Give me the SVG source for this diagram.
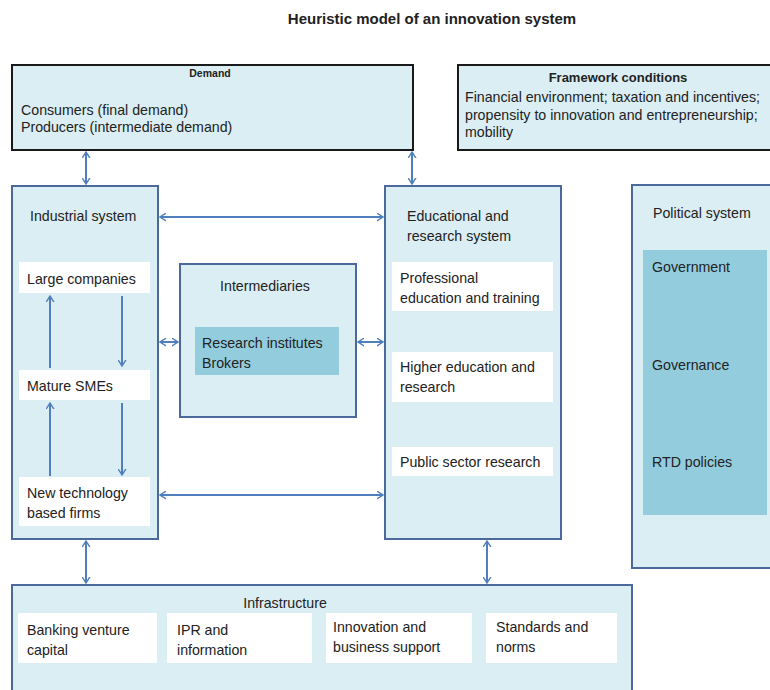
<svg xmlns="http://www.w3.org/2000/svg" width="770" height="690" viewBox="0 0 770 690">
  <style>
    text { font-family: "Liberation Sans", Arial, sans-serif; font-size: 14.2px; fill: #222; }
    .title { font-size: 15px; font-weight: bold; }
    .hdr { font-weight: bold; }
    .box { fill: #dbeef4; stroke: #4b6a9b; stroke-width: 2; }
    .dark { fill: #dbeef4; stroke: #1a1a1a; stroke-width: 2; }
    .item { fill: #ffffff; }
    .deep { fill: #93cddd; }
    .link { stroke: #4f7fbd; stroke-width: 2; fill: none; marker-end: url(#head); }
    .both { marker-start: url(#head); }
  </style>
  <defs>
    <marker id="head" viewBox="0 0 8 10" refX="7" refY="5" markerWidth="7" markerHeight="9" markerUnits="userSpaceOnUse" orient="auto-start-reverse">
      <path d="M0,0.5 L7,5 L0,9.5" fill="none" stroke="#4f7fbd" stroke-width="1.6"/>
    </marker>
  </defs>

  <rect width="770" height="690" fill="#ffffff"/>

  <text class="title" x="432" y="24" text-anchor="middle">Heuristic model of an innovation system</text>

  <g id="demand">
    <rect class="dark" x="12" y="65" width="401" height="85"/>
    <text class="hdr" x="210" y="77" text-anchor="middle" style="font-size:10.5px">Demand</text>
    <text x="21" y="115">Consumers (final demand)</text>
    <text x="21" y="132">Producers (intermediate demand)</text>
  </g>

  <g id="framework">
    <rect class="dark" x="458" y="65" width="320" height="85"/>
    <text class="hdr" x="618" y="82" text-anchor="middle" style="font-size:13px">Framework conditions</text>
    <text x="465" y="102">Financial environment; taxation and incentives;</text>
    <text x="465" y="120">propensity to innovation and entrepreneurship;</text>
    <text x="465" y="137">mobility</text>
  </g>

  <g id="industrial">
    <rect class="box" x="12" y="186" width="146" height="353"/>
    <text x="30" y="221">Industrial system</text>
    <rect class="item" x="19" y="262" width="131" height="31"/>
    <text x="27" y="284">Large companies</text>
    <rect class="item" x="19" y="370" width="131" height="30"/>
    <text x="27" y="391">Mature SMEs</text>
    <rect class="item" x="19" y="477" width="131" height="49"/>
    <text x="27" y="498">New technology</text>
    <text x="27" y="518">based firms</text>
  </g>

  <g id="intermediaries">
    <rect class="box" x="180" y="264" width="176" height="153"/>
    <text x="265" y="291" text-anchor="middle">Intermediaries</text>
    <rect class="deep" x="195" y="327" width="144" height="48"/>
    <text x="202" y="348">Research institutes</text>
    <text x="202" y="368">Brokers</text>
  </g>

  <g id="education">
    <rect class="box" x="385" y="186" width="176" height="353"/>
    <text x="407" y="221">Educational and</text>
    <text x="407" y="241">research system</text>
    <rect class="item" x="392" y="262" width="161" height="49"/>
    <text x="400" y="283">Professional</text>
    <text x="400" y="303">education and training</text>
    <rect class="item" x="392" y="352" width="161" height="50"/>
    <text x="400" y="372">Higher education and</text>
    <text x="400" y="392">research</text>
    <rect class="item" x="392" y="447" width="161" height="29"/>
    <text x="400" y="467">Public sector research</text>
  </g>

  <g id="political">
    <rect class="box" x="632" y="185" width="146" height="383"/>
    <text x="653" y="218">Political system</text>
    <rect class="deep" x="643" y="250" width="124" height="265"/>
    <text x="652" y="272">Government</text>
    <text x="652" y="370">Governance</text>
    <text x="652" y="467">RTD policies</text>
  </g>

  <g id="infrastructure">
    <rect class="box" x="12" y="585" width="620" height="115"/>
    <text x="285" y="608" text-anchor="middle">Infrastructure</text>
    <rect class="item" x="18" y="613" width="139" height="50"/>
    <text x="27" y="635">Banking venture</text>
    <text x="27" y="655">capital</text>
    <rect class="item" x="167" y="613" width="145" height="50"/>
    <text x="177" y="635">IPR and</text>
    <text x="177" y="655">information</text>
    <rect class="item" x="326" y="613" width="146" height="50"/>
    <text x="333" y="632">Innovation and</text>
    <text x="333" y="652">business support</text>
    <rect class="item" x="486" y="613" width="131" height="50"/>
    <text x="496" y="632">Standards and</text>
    <text x="496" y="652">norms</text>
  </g>

  <g id="connectors">
    <!-- demand links -->
    <line class="link both" x1="86" y1="152" x2="86" y2="184"/>
    <line class="link both" x1="412" y1="152" x2="412" y2="184"/>
    <!-- industrial <-> education -->
    <line class="link both" x1="160" y1="217" x2="383" y2="217"/>
    <line class="link both" x1="160" y1="495" x2="383" y2="495"/>
    <!-- intermediaries side links -->
    <line class="link both" x1="160" y1="342" x2="178" y2="342"/>
    <line class="link both" x1="358" y1="342" x2="383" y2="342"/>
    <!-- flows inside the industrial system -->
    <line class="link" x1="50" y1="368" x2="50" y2="296"/>
    <line class="link" x1="122" y1="296" x2="122" y2="366"/>
    <line class="link" x1="50" y1="476" x2="50" y2="403"/>
    <line class="link" x1="122" y1="403" x2="122" y2="475"/>
    <!-- links to infrastructure -->
    <line class="link both" x1="86" y1="541" x2="86" y2="583"/>
    <line class="link both" x1="487" y1="541" x2="487" y2="583"/>
  </g>
</svg>
